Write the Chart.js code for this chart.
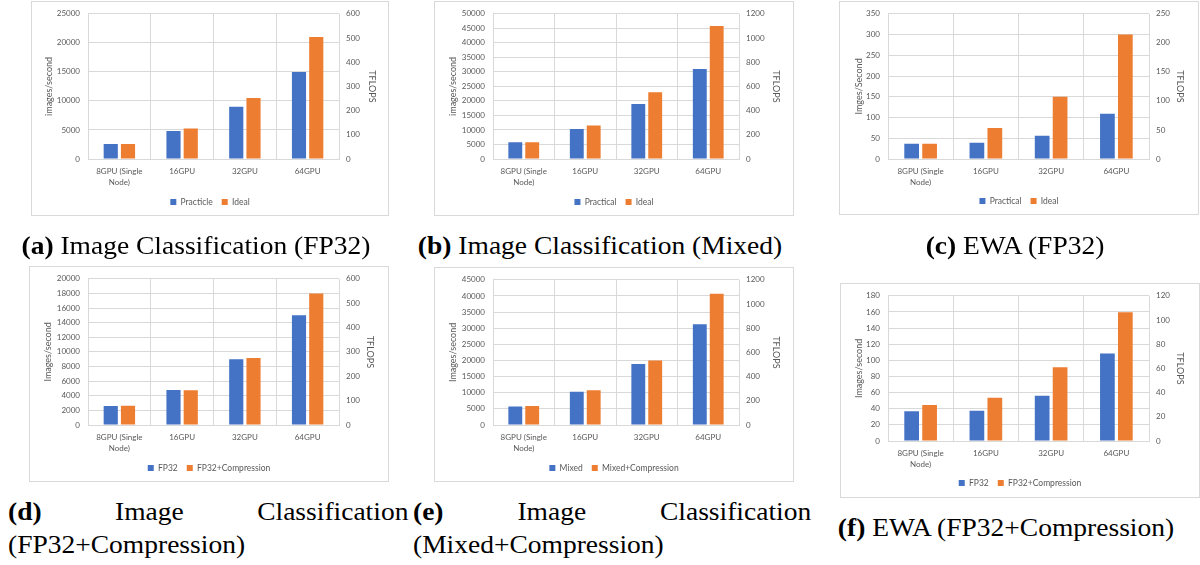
<!DOCTYPE html>
<html>
<head>
<meta charset="utf-8">
<script src="https://cdn.jsdelivr.net/npm/chart.js@4.4.1/dist/chart.umd.min.js"></script>
<style>
  body { margin: 0; background: #fff; }
  #fig { position: relative; width: 1200px; height: 565px; overflow: hidden; }
  .panel { position: absolute; }
  .panel canvas { display: block; outline: 1px solid #d9d9d9; outline-offset: -1px; }
  .cap {
    position: absolute;
    font-family: 'Liberation Serif', 'Times New Roman', serif;
    font-size: 25px;
    line-height: 25px;
    white-space: nowrap;
    color: #000;
    transform: scaleX(1.1);
  }
  .cap.mid { text-align: center; transform-origin: center top; }
  .cap.just { text-align: justify; text-align-last: justify; transform-origin: left top; }
  .cap.left { transform-origin: left top; }
</style>
</head>
<body>
<div id="fig">
  <div class="panel" style="left:31px;top:1px"><canvas id="chartA"></canvas></div>
  <div class="panel" style="left:434px;top:1px"><canvas id="chartB"></canvas></div>
  <div class="panel" style="left:839px;top:1px"><canvas id="chartC"></canvas></div>
  <div class="panel" style="left:29px;top:266px"><canvas id="chartD"></canvas></div>
  <div class="panel" style="left:434px;top:267px"><canvas id="chartE"></canvas></div>
  <div class="panel" style="left:840px;top:283px"><canvas id="chartF"></canvas></div>

  <div class="cap mid" style="left:16px;top:233px;width:360px"><b>(a)</b> Image Classification (FP32)</div>
  <div class="cap mid" style="left:420px;top:233px;width:360px"><b>(b)</b> Image Classification (Mixed)</div>
  <div class="cap mid" style="left:855px;top:233px;width:320px"><b>(c)</b> EWA (FP32)</div>

  <div class="cap just" style="left:8px;top:499px;width:364px"><b>(d)</b> Image Classification</div>
  <div class="cap left" style="left:8px;top:532px">(FP32+Compression)</div>
  <div class="cap just" style="left:413px;top:499px;width:362px"><b>(e)</b> Image Classification</div>
  <div class="cap left" style="left:413px;top:532px">(Mixed+Compression)</div>
  <div class="cap mid" style="left:826px;top:515px;width:360px"><b>(f)</b> EWA (FP32+Compression)</div>
</div>

<script>
// categories (x axis)
const categories = [['8GPU (Single', 'Node)'], '16GPU', '32GPU', '64GPU'];

// (a) Image Classification (FP32)
const aPracticle = [2600, 4800, 9000, 15000];
const aIdeal = [2600, 5250, 10500, 21000];
const aLeftAxis = [0, 25000, 5000];
const aRightAxis = [0, 600, 100];

// (b) Image Classification (Mixed)
const bPractical = [5800, 10300, 18900, 31000];
const bIdeal = [5800, 11500, 23000, 45800];
const bLeftAxis = [0, 50000, 5000];
const bRightAxis = [0, 1200, 200];

// (c) EWA (FP32)
const cPractical = [37, 39, 56, 109];
const cIdeal = [37, 75, 150, 300];
const cLeftAxis = [0, 350, 50];
const cRightAxis = [0, 250, 50];

// (d) Image Classification (FP32+Compression)
const dFP32 = [2600, 4800, 9000, 15000];
const dFP32Comp = [2650, 4750, 9150, 18000];
const dLeftAxis = [0, 20000, 2000];
const dRightAxis = [0, 600, 100];

// (e) Image Classification (Mixed+Compression)
const eMixed = [5700, 10300, 18900, 31200];
const eMixedComp = [5900, 10800, 20000, 40700];
const eLeftAxis = [0, 45000, 5000];
const eRightAxis = [0, 1200, 200];

// (f) EWA (FP32+Compression)
const fFP32 = [37, 37.5, 56, 108.5];
const fFP32Comp = [44.5, 53.5, 91.5, 159.5];
const fLeftAxis = [0, 180, 20];
const fRightAxis = [0, 120, 20];

const BLUE = '#4472C4';
const ORANGE = '#ED7D31';
const GRID = '#d9d9d9';
const TEXT = '#595959';
const FONT = 'Lato, "Open Sans", sans-serif';

const tickSize = 8;
const titleSize = 9;
const legendSize = 8.5;
const legendPad = 9;

// box = panel [left, top, width, height], plot = [left, right, top, bottom],
// leg = legend centre y, tl / tr = axis title centres x (page coords)
const makeChart = (id, box, plot, leg, tl, tr, yTitle, names, s1, s2, left, right) => {
  const [bx, by, bw, bh] = box;
  const canvas = document.getElementById(id);
  canvas.width = bw;
  canvas.height = bh;
  canvas.style.width = bw + 'px';
  canvas.style.height = bh + 'px';

  const itemH = Math.max(legendSize, 6);
  const legendH = itemH + legendPad + 10;
  const padBottom = bh - (leg - by) - itemH / 2 - 10;
  const xH = bh - padBottom - legendH - (plot[3] - by);
  const yW = plot[0] - bx;
  const y2W = bw - (plot[1] - bx);
  const lh = titleSize * 1.2;

  return new Chart(canvas, {
    type: 'bar',
    data: {
      labels: categories,
      datasets: [
        { label: names[0], data: s1, backgroundColor: BLUE, yAxisID: 'y' },
        { label: names[1], data: s2, backgroundColor: ORANGE, yAxisID: 'y' },
      ],
    },
    options: {
      responsive: false,
      animation: false,
      devicePixelRatio: 1,
      datasets: { bar: { categoryPercentage: 0.55, barPercentage: 0.82 } },
      layout: { padding: { top: plot[2] - by, left: 0, right: 0, bottom: padBottom } },
      plugins: {
        tooltip: { enabled: false },
        legend: {
          position: 'bottom',
          labels: {
            boxWidth: 6,
            boxHeight: 6,
            padding: legendPad,
            color: TEXT,
            font: { family: FONT, size: legendSize },
          },
        },
      },
      scales: {
        x: {
          afterFit: s => { s.height = xH; },
          grid: { color: GRID, drawTicks: false },
          border: { color: GRID },
          ticks: { color: TEXT, padding: 7, maxRotation: 0, font: { family: FONT, size: tickSize, lineHeight: 1.4 } },
        },
        y: {
          position: 'left',
          min: left[0], max: left[1],
          afterFit: s => { s.width = yW; },
          grid: { color: GRID, drawTicks: false },
          border: { display: false },
          ticks: { stepSize: left[2], padding: 8, color: TEXT, font: { family: FONT, size: tickSize }, callback: v => String(v) },
          title: {
            display: true, text: yTitle, color: TEXT,
            font: { family: FONT, size: titleSize },
            padding: { top: (tl - bx) - lh / 2, bottom: 0 },
          },
        },
        y2: {
          position: 'right',
          min: right[0], max: right[1],
          afterFit: s => { s.width = y2W; },
          grid: { drawOnChartArea: false, drawTicks: false },
          border: { display: false },
          ticks: { stepSize: right[2], padding: 7, color: TEXT, font: { family: FONT, size: tickSize }, callback: v => String(v) },
          title: {
            display: true, text: 'TFLOPS', color: TEXT,
            font: { family: FONT, size: titleSize },
            padding: { top: bw - (tr - bx) - lh / 2, bottom: 0 },
          },
        },
      },
    },
  });
};

makeChart('chartA', [31, 1, 358, 215], [88, 339, 12, 159], 202, 49, 372,
  'images/second', ['Practicle', 'Ideal'], aPracticle, aIdeal, aLeftAxis, aRightAxis);
makeChart('chartB', [434, 1, 360, 215], [493, 739, 12, 159], 202, 453, 776,
  'images/second', ['Practical', 'Ideal'], bPractical, bIdeal, bLeftAxis, bRightAxis);
makeChart('chartC', [839, 1, 360, 214], [888, 1149, 12, 159], 201, 859, 1180,
  'Imges/Second', ['Practical', 'Ideal'], cPractical, cIdeal, cLeftAxis, cRightAxis);
makeChart('chartD', [29, 266, 360, 216], [88, 339, 278, 425], 468, 48, 370,
  'Images/second', ['FP32', 'FP32+Compression'], dFP32, dFP32Comp, dLeftAxis, dRightAxis);
makeChart('chartE', [434, 267, 360, 215], [493, 739, 278, 425], 468, 453, 776,
  'Images/second', ['Mixed', 'Mixed+Compression'], eMixed, eMixedComp, eLeftAxis, eRightAxis);
makeChart('chartF', [840, 283, 360, 215], [888, 1149, 294, 441], 483, 859, 1180,
  'Images/second', ['FP32', 'FP32+Compression'], fFP32, fFP32Comp, fLeftAxis, fRightAxis);
</script>
</body>
</html>
